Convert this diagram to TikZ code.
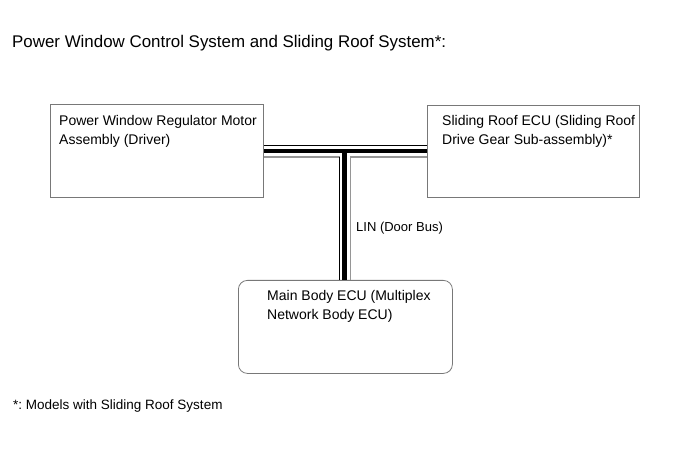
\documentclass[tikz,border=0pt]{standalone}
\usepackage{fontspec}
\setmainfont{Liberation Sans}
\usepackage{tikz}
\usetikzlibrary{positioning, calc}
\definecolor{boxgray}{RGB}{120,120,120}
\definecolor{wiregray}{RGB}{150,150,150}
\frenchspacing
\tikzset{
  unitbox/.style={rectangle, draw=boxgray, line width=0.8pt, anchor=north west,
    minimum width=213pt, minimum height=93pt, inner sep=0pt},
  ecubox/.style={unitbox, rounded corners=9pt, minimum width=214pt},
  boxtext/.style={anchor=north west, align=left, inner sep=0pt,
    font=\fontsize{14}{19}\selectfont},
  notetext/.style={anchor=base west, inner sep=0pt, font=\fontsize{13.5}{16}\selectfont},
  busmain/.style={line width=4.5pt, color=black},
  busedge/.style={line width=1pt, color=black},
  busshade/.style={line width=1.2pt, color=wiregray}
}

\begin{document}
\begin{tikzpicture}[x=1pt, y=-1pt]
  \useasboundingbox (0,0) rectangle (691,465);
  % title
  \node[notetext, font=\fontsize{16.9}{20}\selectfont] (title) at (12,48)
    {Power Window Control System and Sliding Roof System*:};
  % units
  \node[unitbox] (pwm) at (50,104) {};
  \node[boxtext] (pwmtxt) at (59,115) {Power Window Regulator Motor\\Assembly (Driver)};
  \node[unitbox, minimum width=212pt, minimum height=92pt] (roof) at (427,105) {};
  \node[boxtext] (rooftxt) at (442,115) {Sliding Roof ECU (Sliding Roof\\Drive Gear Sub-assembly)*};
  \node[ecubox] (body) at (238,280) {};
  \node[boxtext] (bodytxt) at (267,290) {Main Body ECU (Multiplex\\Network Body ECU)};
  % LIN bus
  \coordinate (tee) at (344.5,151);
  \draw[busedge] ($(pwm.east |- tee)+(0,-5)$) -- ($(roof.west |- tee)+(0,-5)$);
  \draw[busshade] ($(pwm.east |- tee)+(0,6)$) -- ($(tee)+(-5,6)$);
  \draw[busedge] ($(tee)+(-5,6)$) -- ($(tee |- body.north)+(-5,0)$);
  \draw[busshade] ($(roof.west |- tee)+(0,6)$) -- ($(tee)+(6,6)$)
    -- ($(tee |- body.north)+(6,0)$);
  \draw[busmain] (pwm.east |- tee) -- (roof.west |- tee);
  \draw[busmain] (tee) -- (tee |- body.north);
  \node[notetext, font=\fontsize{13}{16}\selectfont] (lin) at (356,232) {LIN (Door Bus)};
  % footnote
  \node[notetext] (note) at (13,409) {*: Models with Sliding Roof System};
\end{tikzpicture}
\end{document}
